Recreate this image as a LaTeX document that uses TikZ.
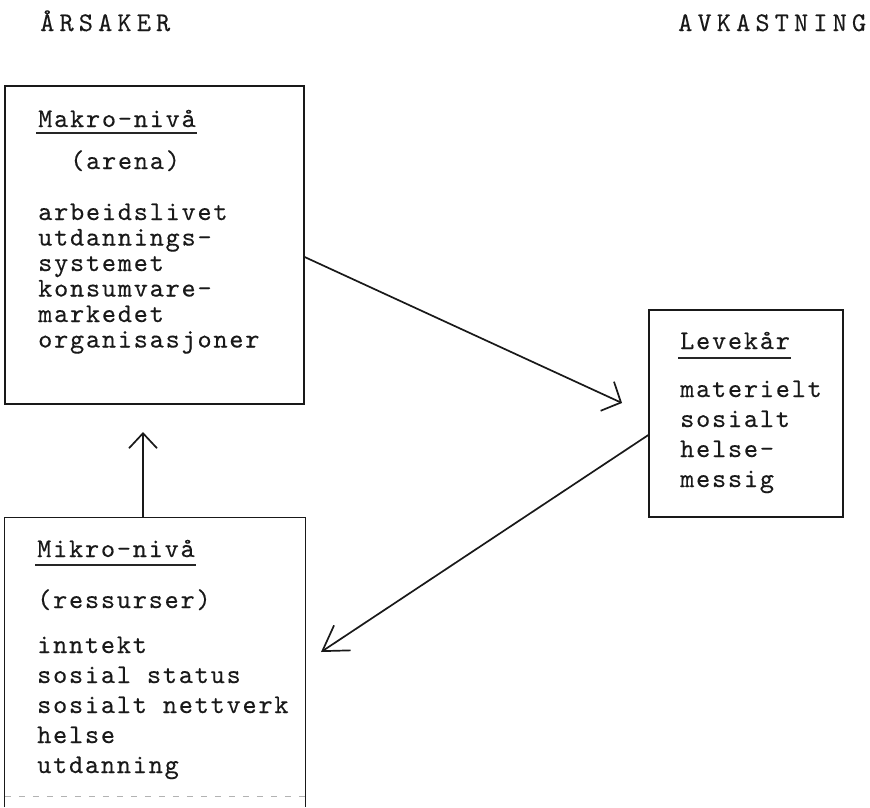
\documentclass[tikz,border=0pt]{standalone}
\usepackage{fontspec}
\usetikzlibrary{arrows.meta}
\newfontfamily\tw{lmmono10-regular.otf}[LetterSpace=6.5,FakeBold=0.3]
\newfontfamily\twt{lmmono10-regular.otf}[LetterSpace=19,FakeBold=0.2]
\begin{document}
\begin{tikzpicture}[x=1pt,y=-1pt,
  boxst/.style={draw=black!90, line width=1.3pt, inner sep=0pt, rectangle},
  txt/.style={anchor=base west, inner sep=0pt, font=\tw\fontsize{27}{27}\selectfont, text=black!90},
  ttl/.style={anchor=base west, inner sep=0pt, font=\twt\fontsize{27}{27}\selectfont, text=black!90},
  conn/.style={line width=1.7pt, draw=black!90},
  uline/.style={line width=1.3pt, draw=black!85}]
\useasboundingbox (0,0) rectangle (870,807);

% titles
\node[ttl] (t1) at (40,31) {ÅRSAKER};
\node[ttl] (t2) at (678,31) {AVKASTNING};

% boxes
\node[boxst, minimum width=299pt, minimum height=318pt] (makro) at (154.5,245) {};
\node[boxst, minimum width=194pt, minimum height=207pt] (leve) at (746,413.5) {};
\node[inner sep=0pt, minimum width=300pt, minimum height=289pt] (mikro) at (155,662.5) {};
\draw[line width=1.3pt, draw=black!90] (mikro.south west) -- (mikro.north west) -- (mikro.north east) -- (mikro.south east);
\draw[black!30, line width=1pt, dash pattern=on 6pt off 8pt] ([yshift=11pt]mikro.south west) -- ([yshift=11pt]mikro.south east);

% Makro text
\node[txt] (mkh) at (38,127) {Makro-nivå};
\draw[uline] ([xshift=-2pt,yshift=-6pt]mkh.base west) -- ([xshift=1pt,yshift=-6pt]mkh.base east);
\node[txt] (mka) at (70,169) {(arena)};
\node[txt] (mk1) at (38,220) {arbeidslivet};
\node[txt] (mk2) at (38,245.5) {utdannings-};
\node[txt] (mk3) at (38,271) {systemet};
\node[txt] (mk4) at (38,296.5) {konsumvare-};
\node[txt] (mk5) at (38,322) {markedet};
\node[txt] (mk6) at (38,347.5) {organisasjoner};

% Levekaar text
\node[txt] (lvh) at (680,349) {Levekår};
\draw[uline] ([xshift=-2pt,yshift=-9pt]lvh.base west) -- ([xshift=1pt,yshift=-9pt]lvh.base east);
\node[txt] (lv1) at (680,397) {materielt};
\node[txt] (lv2) at (680,427) {sosialt};
\node[txt] (lv3) at (680,457) {helse-};
\node[txt] (lv4) at (680,487) {messig};

% Mikro text
\node[txt] (mih) at (37,557) {Mikro-nivå};
\draw[uline] ([xshift=-2pt,yshift=-8pt]mih.base west) -- ([xshift=1pt,yshift=-8pt]mih.base east);
\node[txt] (mir) at (37,608) {(ressurser)};
\node[txt] (mi1) at (37,653) {inntekt};
\node[txt] (mi2) at (37,683) {sosial status};
\node[txt] (mi3) at (37,713) {sosialt nettverk};
\node[txt] (mi4) at (37,743) {helse};
\node[txt] (mi5) at (37,773) {utdanning};

% connectors
\coordinate (a1tip) at (622,403);
\draw[conn, -{Straight Barb[length=15pt,width=32pt]}] ([yshift=-12pt]makro.east) -- (a1tip);
\coordinate (a2tip) at (321,652);
\draw[conn, -{Straight Barb[length=24pt,width=30pt]}] ([yshift=-21.5pt]leve.west) -- (a2tip);
\coordinate (a3tip) at (143,432);
\draw[conn, -{Straight Barb[length=15pt,width=28pt]}] ([xshift=-12pt]mikro.north) -- (a3tip);
\end{tikzpicture}
\end{document}
